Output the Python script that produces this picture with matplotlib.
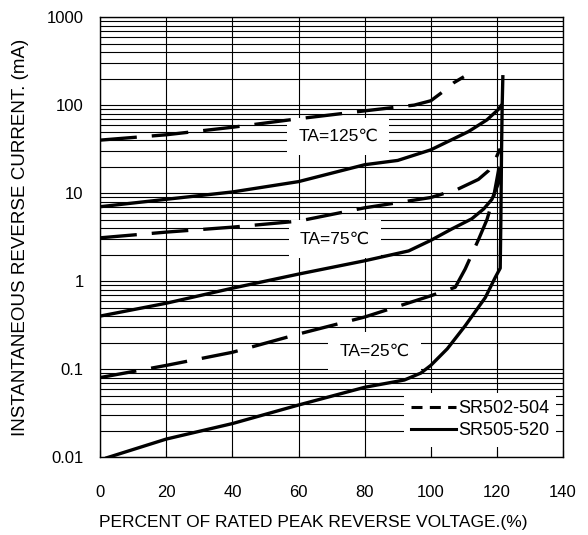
import matplotlib
matplotlib.use("Agg")
import matplotlib.pyplot as plt
from matplotlib.lines import Line2D

plt.rcParams['font.family'] = ['Liberation Sans', 'DejaVu Sans']

# SR502-504 (dashed) curves, x = % of rated peak reverse voltage, y = mA
x_502_125 = [0, 20, 40, 60, 80, 95, 100, 104, 107, 110]
y_502_125 = [40, 46, 56, 70, 86, 100, 112, 145, 180, 210]
x_502_75 = [0, 20, 40, 60, 80, 100, 108, 114.4, 117.5, 119.5, 121]
y_502_75 = [3.1, 3.6, 4.1, 4.8, 6.8, 8.9, 11, 14.3, 18, 24, 32]
x_502_25 = [0, 20, 40, 60, 80, 100, 107.4, 110.4, 114.5, 117, 119, 120.7]
y_502_25 = [0.08, 0.11, 0.155, 0.25, 0.39, 0.68, 0.85, 1.37, 3.0, 5.0, 9, 20]

# SR505-520 (solid) curves
x_505_125 = [0, 20, 40, 60, 80, 90, 100, 111.4, 117, 120.4, 121.2]
y_505_125 = [7.0, 8.5, 10.3, 13.5, 21, 23.5, 31, 50, 68, 89, 98]
x_505_75 = [0, 20, 40, 60, 80, 93.3, 100, 106.3, 112.4, 116, 118.5, 120.5, 121.2]
y_505_75 = [0.40, 0.56, 0.83, 1.2, 1.7, 2.2, 2.9, 3.9, 5.1, 6.6, 8.5, 13, 18]
x_505_25 = [2, 20, 40, 60, 80, 92, 97, 100, 105, 110.4, 116.5, 119.5, 121,
            121.2, 121.4, 121.6, 121.8]
y_505_25 = [0.0098, 0.016, 0.024, 0.039, 0.062, 0.075, 0.09, 0.11, 0.17, 0.31,
            0.65, 1.1, 1.4, 5, 30, 100, 210]

labels = ["TA=125℃", "TA=75℃", "TA=25℃"]
label_x = [72, 71, 83]
label_y = [44, 3.0, 0.16]

fig = plt.figure(figsize=(5.88, 5.35), dpi=100)
ax = fig.add_axes([0.1705, 0.1458, 0.7870, 0.8222])

ax.set_yscale('log')
ax.set_xlim(0, 140)
ax.set_ylim(0.01, 1000)

ax.grid(True, which='major', axis='both', color='black', lw=0.8)
ax.grid(True, which='minor', axis='y', color='black', lw=0.8)
ax.set_axisbelow(True)

lw = 2.4
dash = (0, (11, 4.5))
for xs, ys in [(x_502_125, y_502_125), (x_502_75, y_502_75), (x_502_25, y_502_25)]:
    ax.plot(xs, ys, color='black', lw=lw, linestyle=dash,
            dash_capstyle='butt', zorder=3)
for xs, ys in [(x_505_125, y_505_125), (x_505_75, y_505_75), (x_505_25, y_505_25)]:
    ax.plot(xs, ys, color='black', lw=lw, solid_joinstyle='round', zorder=3)

for t, tx, ty in zip(labels, label_x, label_y):
    ax.text(tx, ty, t, fontsize=12.5, ha='center', va='center', zorder=2,
            bbox=dict(facecolor='white', edgecolor='none', pad=8))

ax.set_xticks([0, 20, 40, 60, 80, 100, 120, 140])
ax.set_yticks([0.01, 0.1, 1, 10, 100, 1000])
ax.set_yticklabels(['0.01', '0.1', '1', '10', '100', '1000'])
ax.tick_params(which='both', direction='in', length=0, labelsize=12, pad=12)
ax.tick_params(axis='y', which='minor', length=0)
ax.tick_params(axis='x', length=5, width=0.8, pad=20)

ax.set_xlabel("PERCENT OF RATED PEAK REVERSE VOLTAGE.(%)", fontsize=12.5)
ax.xaxis.set_label_coords(0.461, -0.132)
ax.set_ylabel("INSTANTANEOUS REVERSE CURRENT. (mA)", fontsize=13.5, labelpad=13)

for s in ax.spines.values():
    s.set_linewidth(1.0)

handles = [Line2D([], [], color='black', lw=2.2, linestyle=(0, (3.6, 2.4))),
           Line2D([], [], color='black', lw=2.2)]
leg = ax.legend(handles, ['SR502-504', 'SR505-520'], loc='lower right',
                bbox_to_anchor=(1.005, 0.003), fontsize=13, frameon=True,
                fancybox=False, edgecolor='none', framealpha=1,
                handlelength=2.5, handletextpad=0.1, borderpad=0.4,
                labelspacing=0.3)
leg.set_zorder(5)

fig.savefig("out.png", dpi=100)
